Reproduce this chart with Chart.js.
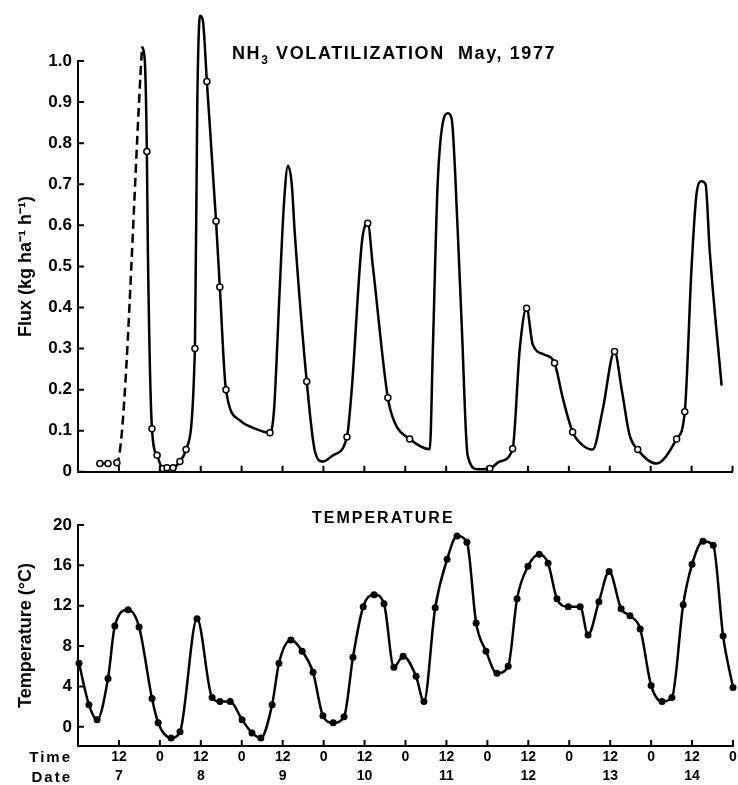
<!DOCTYPE html>
<html>
<head>
<meta charset="utf-8">
<script src="https://cdn.jsdelivr.net/npm/chart.js@4/dist/chart.umd.min.js"></script>
<style>
  body { margin: 0; background: #fff; }
  #page { position: relative; width: 738px; height: 785px; overflow: hidden; font-family: 'Liberation Sans', Arial, sans-serif; font-weight: bold; color: #000; }
  .box { position: absolute; left: 0; width: 738px; }
  .lbl { position: absolute; white-space: nowrap; }
</style>
</head>
<body>
<div id="page">
  <div class="box" style="top:0;height:488px"><canvas id="fluxChart"></canvas></div>
  <div class="box" style="top:490px;height:295px"><canvas id="tempChart"></canvas></div>
  <div class="lbl" style="left:232px;top:43px;font-size:18px;line-height:20px;letter-spacing:1.6px">NH<sub style="font-size:12px">3</sub> VOLATILIZATION&nbsp;&nbsp;May, 1977</div>
  <div class="lbl" style="left:312px;top:508px;font-size:16px;line-height:20px;letter-spacing:2px">TEMPERATURE</div>
  <div class="lbl" style="right:666px;top:747px;font-size:15px;line-height:20px;letter-spacing:2px">Time</div>
  <div class="lbl" style="right:666px;top:767px;font-size:15px;line-height:20px;letter-spacing:2px">Date</div>
</div>
<script>
// hours from 7 May 00:00
const timeTicks = [0, 12, 24, 36, 48, 60, 72, 84, 96, 108, 120, 132, 144, 156, 168, 180, 192];
const dates = [7, 8, 9, 10, 11, 12, 13, 14];

const fluxTicks = [0, 0.1, 0.2, 0.3, 0.4, 0.5, 0.6, 0.7, 0.8, 0.9, 1.0];
const tempTicks = [0, 4, 8, 12, 16, 20];

// dashed start of the flux curve
const fluxDashHours = [6.4, 8.8, 11.4, 18.8];
const fluxDashValues = [0.02, 0.02, 0.022, 1.035];
const fluxDashMarks = [1, 1, 1, 0];

// NH3 flux (kg ha-1 h-1)
const fluxHours = [18.8, 19.6, 20.2, 20.5, 21.7, 23.2, 24.9, 26.1, 27.9, 29.9, 31.7, 34.3, 35.0, 35.8, 36.6, 37.8,
  40.5, 41.6, 43.4, 47.5, 51.9, 56.3, 57.5, 59.2, 60.4, 61.6, 62.7, 63.6, 67.1, 69.5, 71.8, 74.8,
  78.9, 80.3, 83.3, 85.0, 86.5, 90.9, 92.9, 97.3, 103.2, 104.1, 105.5, 107.3, 108.5, 109.6, 111.4, 112.6,
  114.3, 117.3, 120.8, 123.7, 127.5, 129.6, 131.6, 133.4, 136.9, 139.8, 142.2, 145.1, 148.0, 151.0,
  153.9, 157.4, 159.5, 161.8, 164.2, 169.7, 175.6, 178.0, 180.0, 181.5, 182.9, 184.1, 185.3, 188.8];
const fluxValues = [1.035, 1.0, 0.78, 0.54, 0.105, 0.04, 0.008, 0.01, 0.01, 0.025, 0.054, 0.3, 0.9, 1.11, 1.1, 0.95,
  0.61, 0.45, 0.2, 0.125, 0.105, 0.095, 0.15, 0.45, 0.65, 0.745, 0.7, 0.58, 0.22, 0.05, 0.025, 0.04,
  0.085, 0.2, 0.56, 0.605, 0.5, 0.18, 0.12, 0.08, 0.055, 0.3, 0.7, 0.86, 0.873, 0.86, 0.585, 0.35,
  0.04, 0.006, 0.008, 0.025, 0.056, 0.3, 0.398, 0.31, 0.285, 0.265, 0.18, 0.097, 0.065, 0.054,
  0.15, 0.293, 0.2, 0.09, 0.054, 0.02, 0.08, 0.146, 0.5, 0.68, 0.707, 0.7, 0.54, 0.21];
const fluxMarks = [1, 0, 1, 0, 1, 1, 1, 1, 1, 1, 1, 1, 0, 0, 0, 1,
  1, 1, 1, 0, 0, 1, 0, 0, 0, 0, 0, 0, 1, 0, 0, 0,
  1, 0, 0, 1, 0, 1, 0, 1, 0, 0, 0, 0, 0, 0, 0, 0,
  0, 0, 1, 0, 1, 0, 1, 0, 0, 1, 0, 1, 0, 0,
  0, 1, 0, 0, 1, 0, 1, 1, 0, 0, 0, 0, 0, 0];

// air temperature (deg C)
const tempHours = [0.3, 3.2, 5.6, 8.8, 10.8, 14.7, 17.9, 21.7, 23.5, 27.3, 29.9, 34.9, 39.3, 41.6, 44.6, 48.1,
  51.0, 53.6, 56.9, 58.9, 62.4, 65.7, 68.9, 71.8, 74.8, 78.0, 80.6, 83.6, 86.8, 89.7, 92.6, 95.3,
  99.1, 101.4, 104.7, 108.2, 111.1, 114.0, 116.7, 119.6, 122.8, 126.1, 128.7, 131.9, 135.2, 137.8, 140.4, 143.7,
  147.2, 149.5, 152.7, 155.7, 159.2, 161.8, 164.8, 168.0, 171.2, 174.1, 177.4, 180.0, 183.2, 186.2, 189.1, 192.0];
const tempValues = [6.3, 2.2, 0.7, 4.8, 10.0, 11.6, 9.9, 2.8, 0.4, -1.1, -0.5, 10.7, 2.9, 2.5, 2.5, 0.7,
  -0.6, -1.1, 2.2, 6.3, 8.6, 7.5, 5.4, 1.1, 0.4, 1.0, 6.9, 11.9, 13.1, 12.2, 5.9, 7.0,
  5.0, 2.5, 11.8, 16.6, 18.9, 18.3, 10.3, 7.5, 5.3, 6.0, 12.7, 15.9, 17.1, 16.2, 12.7, 11.9,
  11.9, 9.1, 12.4, 15.4, 11.7, 11.0, 9.7, 4.1, 2.5, 2.9, 12.1, 16.1, 18.4, 18.0, 9.0, 3.9];

const toPoints = (xs, ys) => xs.map((x, i) => ({ x, y: ys[i] }));
const FONT = "'Liberation Sans', Arial, sans-serif";

const tickMarks = {
  id: 'tickMarks',
  afterDraw(chart) {
    const { ctx, chartArea, scales: { x, y } } = chart;
    ctx.save();
    ctx.strokeStyle = '#000';
    ctx.lineWidth = 2;
    ctx.beginPath();
    x.ticks.forEach(t => {
      const px = x.getPixelForValue(t.value);
      ctx.moveTo(px, chartArea.bottom);
      ctx.lineTo(px, chartArea.bottom - 6);
    });
    y.ticks.forEach(t => {
      const py = y.getPixelForValue(t.value);
      ctx.moveTo(chartArea.left, py);
      ctx.lineTo(chartArea.left + 6, py);
    });
    ctx.stroke();
    ctx.restore();
  }
};

const timeLabel = v => {
  if (v === 0) return '';
  if (v % 24 === 12) return ['12', String(dates[(v - 12) / 24])];
  return ['0', ''];
};

const xAxis = showLabels => ({
  type: 'linear',
  min: 0,
  max: 192,
  afterBuildTicks: s => { s.ticks = timeTicks.map(value => ({ value })); },
  afterFit: s => { s.height = showLabels ? 39 : 0; },
  grid: { display: false, drawTicks: false },
  border: { display: true, color: '#000', width: 2 },
  ticks: {
    display: showLabels,
    padding: 1,
    maxRotation: 0,
    autoSkip: false,
    color: '#000',
    font: { family: FONT, size: 14, weight: 'bold', lineHeight: 1.4 },
    callback: timeLabel
  }
});

const yAxis = (min, max, list, title, fmt) => ({
  type: 'linear',
  min,
  max,
  afterBuildTicks: s => { s.ticks = list.map(value => ({ value })); },
  afterFit: s => { s.width = 78; },
  grid: { display: false, drawTicks: false },
  border: { display: true, color: '#000', width: 2 },
  ticks: { padding: 6, color: '#000', font: { family: FONT, size: 17, weight: 'bold' }, callback: fmt },
  title: { display: true, text: title, color: '#000', padding: { top: 15, bottom: 0 }, font: { family: FONT, size: 18, weight: 'bold' } }
});

const baseOptions = (padding, scales) => ({
  responsive: true,
  maintainAspectRatio: false,
  animation: false,
  layout: { padding },
  plugins: { legend: { display: false }, tooltip: { enabled: false } },
  scales
});

new Chart(document.getElementById('fluxChart'), {
  type: 'line',
  data: {
    datasets: [
      {
        data: toPoints(fluxDashHours, fluxDashValues),
        borderColor: '#000',
        borderWidth: 2.5,
        borderDash: [9, 5],
        cubicInterpolationMode: 'monotone',
        pointRadius: fluxDashMarks.map(m => m ? 3 : 0),
        pointBackgroundColor: '#fff',
        pointBorderColor: '#000',
        pointBorderWidth: 1.5,
        clip: false
      },
      {
        data: toPoints(fluxHours, fluxValues),
        borderColor: '#000',
        borderWidth: 2.5,
        cubicInterpolationMode: 'monotone',
        pointRadius: fluxMarks.map(m => m ? 3 : 0),
        pointBackgroundColor: '#fff',
        pointBorderColor: '#000',
        pointBorderWidth: 1.5,
        clip: false
      }
    ]
  },
  options: baseOptions({ top: 61, right: 5, bottom: 3, left: 0 }, {
    x: xAxis(false),
    y: yAxis(0, 1.0, fluxTicks, 'Flux (kg ha\u207B\u00B9 h\u207B\u00B9)', v => v === 0 ? '0' : v.toFixed(1))
  }),
  plugins: [tickMarks]
});

new Chart(document.getElementById('tempChart'), {
  type: 'line',
  data: {
    datasets: [{
      data: toPoints(tempHours, tempValues),
      borderColor: '#000',
      borderWidth: 2.5,
      cubicInterpolationMode: 'monotone',
      pointRadius: 3.5,
      pointBackgroundColor: '#000',
      pointBorderColor: '#000',
      pointBorderWidth: 0,
      clip: false
    }]
  },
  options: baseOptions({ top: 35, right: 5, bottom: 0, left: 0 }, {
    x: xAxis(true),
    y: yAxis(-1.9, 20, tempTicks, 'Temperature (\u00B0C)', v => String(v))
  }),
  plugins: [tickMarks]
});
</script>
</body>
</html>
